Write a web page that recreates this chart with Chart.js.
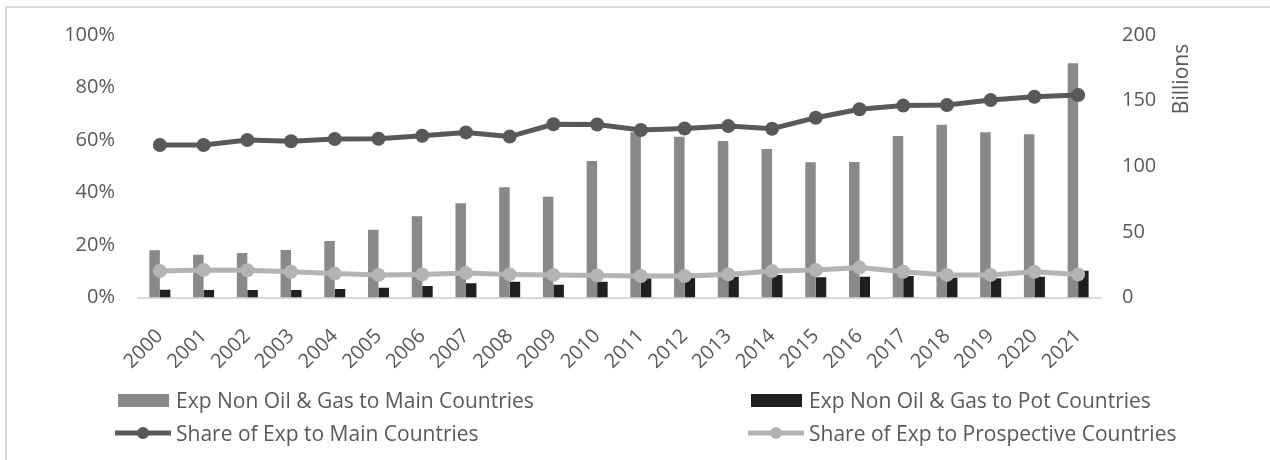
<!DOCTYPE html>
<html>
<head>
<meta charset="utf-8">
<script src="https://cdn.jsdelivr.net/npm/chart.js@4/dist/chart.umd.min.js"></script>
<style>
    html, body { margin: 0; padding: 0; background: #fff; }
    #wrap { position: relative; width: 1270px; height: 460px; overflow: hidden; font-family: "Open Sans", sans-serif; }
    #frame { position: absolute; left: 5px; top: 6px; width: 1400px; height: 500px; border-left: 2px solid #d9d9d9; border-top: 2px solid #d9d9d9; }
    #expChart { position: absolute; left: 0; top: 0; }
    .lg-item { position: absolute; height: 24px; display: flex; align-items: center; color: #595959; font-size: 21px; white-space: nowrap; }
    .lg-item canvas { margin-right: 5px; }
</style>
</head>
<body>
<div id="wrap">
    <div id="frame"></div>
    <canvas id="expChart" width="1270" height="460"></canvas>
    <div id="legend"></div>
</div>
<script>
/*****************************************************************************/
/* Data */
/*****************************************************************************/
var years = ["2000", "2001", "2002", "2003", "2004", "2005", "2006", "2007", "2008", "2009", "2010",
    "2011", "2012", "2013", "2014", "2015", "2016", "2017", "2018", "2019", "2020", "2021"];

// Billions
var expMainCountries = [36, 32.6, 33.9, 36.2, 43, 51.7, 61.9, 71.8, 84, 76.8, 104,
    126, 122.5, 119.2, 113.1, 103, 103.2, 123, 131.7, 126, 124.3, 178.4];
var expPotCountries = [6, 5.7, 5.7, 5.7, 6.5, 7.5, 8.8, 10.8, 12, 9.8, 12,
    14.6, 15, 15.9, 17.1, 15.4, 15.9, 16.4, 15, 14.6, 15.9, 20.4];

// Percent
var shareMainCountries = [58.1, 58.1, 60, 59.5, 60.4, 60.5, 61.6, 62.9, 61.3, 66, 65.9,
    63.8, 64.4, 65.3, 64.3, 68.5, 71.7, 73.1, 73.3, 75.2, 76.5, 77.1];
var shareProspectiveCountries = [10.1, 10.5, 10.4, 9.8, 9.1, 8.6, 8.8, 9.3, 8.8, 8.6, 8.4,
    8.2, 8.2, 8.8, 10.1, 10.5, 11.4, 9.8, 8.6, 8.6, 9.8, 8.8];

var percentTicks = [0, 20, 40, 60, 80, 100];
var billionTicks = [0, 50, 100, 150, 200];

var textColor = "#595959";
var fontFamily = "'Open Sans', sans-serif";

//-----------------------
//- Billions axis title -
//-----------------------
var billionsTitle = {
    id: "billionsTitle",
    afterDraw: function (chart) {
        var ctx = chart.ctx;
        ctx.save();
        ctx.translate(1182, 79);
        ctx.rotate(-Math.PI / 2);
        ctx.fillStyle = textColor;
        ctx.font = "21px " + fontFamily;
        ctx.textAlign = "center";
        ctx.textBaseline = "middle";
        ctx.fillText("Billions", 0, 0);
        ctx.restore();
    }
};

var ctx = document.getElementById("expChart").getContext("2d");

var expChart = new Chart(ctx, {
    type: "bar",
    data: {
        labels: years,
        datasets: [
            {
                type: "line",
                label: "Share of Exp to Main Countries",
                data: shareMainCountries,
                yAxisID: "yPct",
                borderColor: "#595959",
                backgroundColor: "#595959",
                borderWidth: 5,
                pointRadius: 7,
                pointBackgroundColor: "#595959",
                pointBorderWidth: 0,
                order: 0
            },
            {
                type: "line",
                label: "Share of Exp to Prospective Countries",
                data: shareProspectiveCountries,
                yAxisID: "yPct",
                borderColor: "#b4b4b4",
                backgroundColor: "#b4b4b4",
                borderWidth: 5,
                pointRadius: 7,
                pointBackgroundColor: "#b4b4b4",
                pointBorderWidth: 0,
                order: 0
            },
            {
                label: "Exp Non Oil & Gas to Main Countries",
                data: expMainCountries,
                yAxisID: "yBn",
                backgroundColor: "#898989",
                categoryPercentage: 0.48,
                barPercentage: 1.0,
                order: 1
            },
            {
                label: "Exp Non Oil & Gas to Pot Countries",
                data: expPotCountries,
                yAxisID: "yBn",
                backgroundColor: "#1f1f1f",
                categoryPercentage: 0.48,
                barPercentage: 1.0,
                order: 1
            }
        ]
    },
    options: {
        responsive: false,
        animation: false,
        layout: { padding: { top: 35, left: 0, right: 0, bottom: 0 } },
        plugins: {
            legend: { display: false },
            tooltip: { enabled: false }
        },
        scales: {
            x: {
                offset: true,
                grid: { display: false, drawTicks: false },
                border: { color: "#d9d9d9", width: 2 },
                ticks: {
                    color: textColor,
                    font: { family: fontFamily, size: 20 },
                    minRotation: 45,
                    maxRotation: 45,
                    padding: 27
                },
                afterFit: function (scale) { scale.height = 162.5; }
            },
            yPct: {
                position: "left",
                min: 0,
                max: 100,
                grid: { display: false, drawTicks: false },
                border: { display: false },
                afterBuildTicks: function (scale) {
                    scale.ticks = percentTicks.map(function (v) { return { value: v }; });
                },
                ticks: {
                    color: textColor,
                    font: { family: fontFamily, size: 20 },
                    padding: 23,
                    callback: function (v) { return v + "%"; }
                },
                afterFit: function (scale) { scale.width = 138; }
            },
            yBn: {
                position: "right",
                min: 0,
                max: 200,
                grid: { display: false, drawTicks: false },
                border: { display: false },
                afterBuildTicks: function (scale) {
                    scale.ticks = billionTicks.map(function (v) { return { value: v }; });
                },
                ticks: {
                    color: textColor,
                    font: { family: fontFamily, size: 20 },
                    padding: 22
                },
                afterFit: function (scale) { scale.width = 170; }
            }
        }
    },
    plugins: [billionsTitle]
});

//------------
//- LEGEND -
//------------
var legendSlots = [
    { ds: 2, x: 115, y: 388 },
    { ds: 3, x: 748, y: 388 },
    { ds: 0, x: 115, y: 421 },
    { ds: 1, x: 748, y: 421 }
];
var legendDiv = document.getElementById("legend");
legendSlots.forEach(function (slot) {
    var ds = expChart.data.datasets[slot.ds];
    var item = document.createElement("div");
    item.className = "lg-item";
    item.style.left = slot.x + "px";
    item.style.top = slot.y + "px";
    var sym = document.createElement("canvas");
    sym.width = 56;
    sym.height = 24;
    var sc = sym.getContext("2d");
    if (ds.type === "line") {
        sc.strokeStyle = ds.borderColor;
        sc.lineWidth = 5;
        sc.beginPath();
        sc.moveTo(0, 12);
        sc.lineTo(56, 12);
        sc.stroke();
        sc.fillStyle = ds.borderColor;
        sc.beginPath();
        sc.arc(28, 12, 6, 0, Math.PI * 2);
        sc.fill();
    } else {
        sc.fillStyle = ds.backgroundColor;
        sc.fillRect(3, 6, 51, 13);
    }
    item.appendChild(sym);
    var txt = document.createElement("span");
    txt.textContent = ds.label;
    item.appendChild(txt);
    legendDiv.appendChild(item);
});
</script>
</body>
</html>
